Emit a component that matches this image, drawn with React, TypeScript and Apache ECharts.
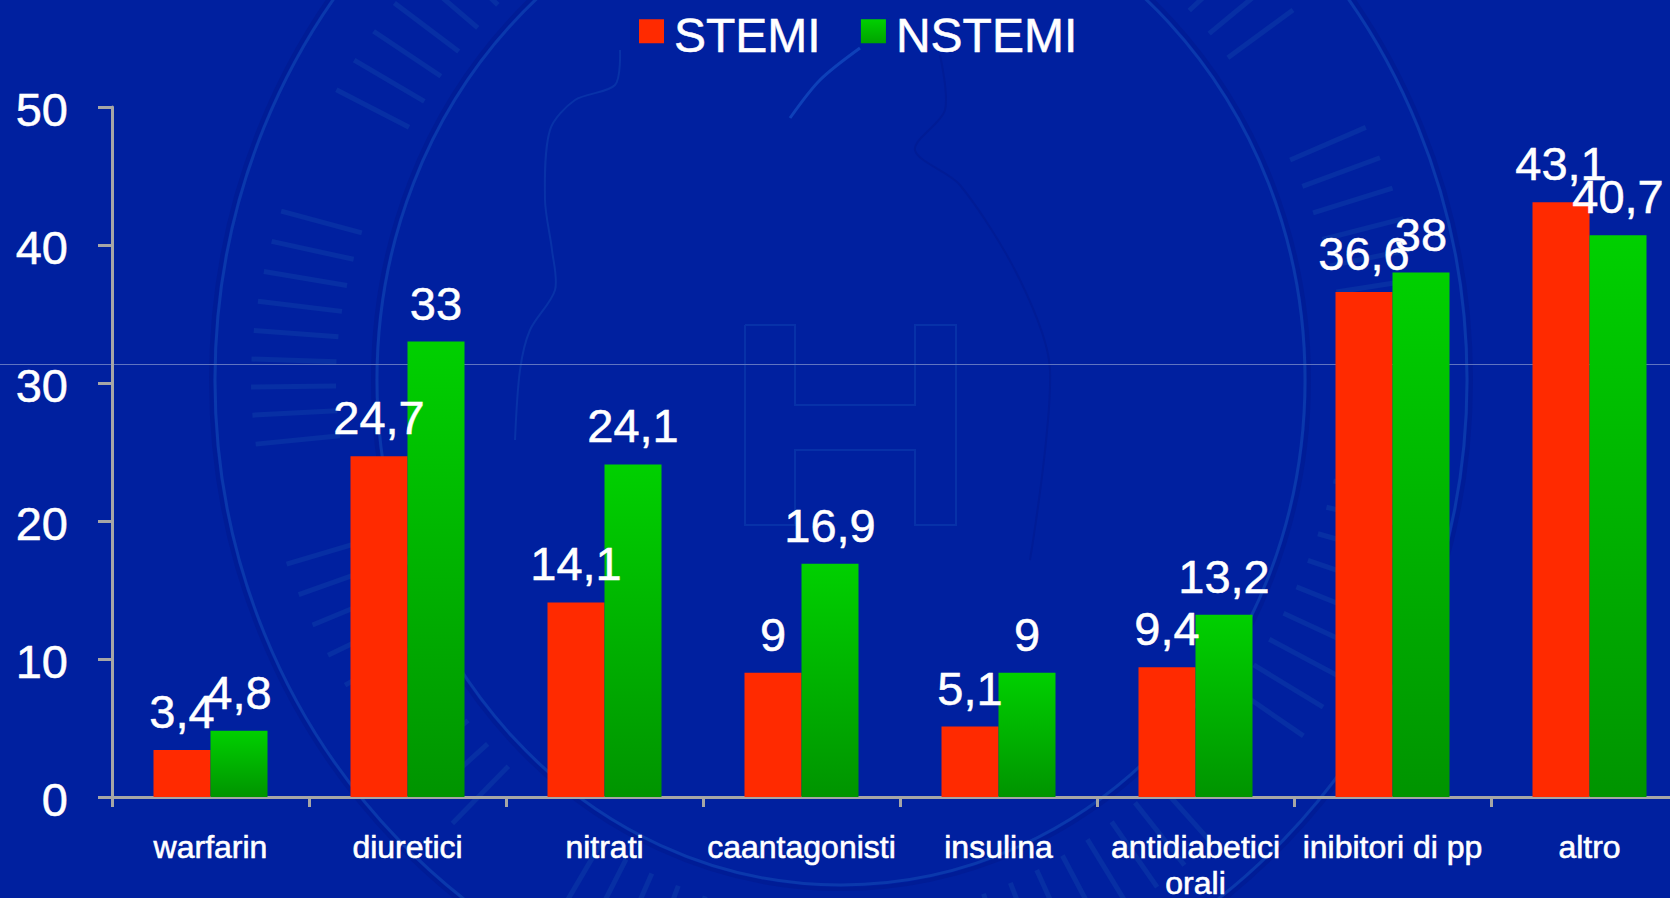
import React, { useEffect, useRef } from "react";
import * as echarts from "echarts";

const categories = ["warfarin", "diuretici", "nitrati", "caantagonisti", "insulina", "antidiabetici\norali", "inibitori di pp", "altro"];
const stemi = [3.4, 24.7, 14.1, 9, 5.1, 9.4, 36.6, 43.1];
const nstemi = [4.8, 33, 24.1, 16.9, 9, 13.2, 38, 40.7];
const seriesNames = ["STEMI", "NSTEMI"];
const FONT = "'Liberation Sans', Arial, sans-serif";

const fmt = (p: any) => String(p.value).replace(".", ",");
const WM = "#0A38AC";
const WMD = "#001C96";
// legend square sits above the text's centre: the second, empty subpath only widens the icon's bounding box
const LEGEND_ICON = "path://M0,0L25,0L25,24L0,24Z M0,32L0,32Z";

function watermark(): any[] {
  const cx = 841, cy = 380;
  const els: any[] = [];
  const ring = (rx: number, ry: number, c: string, w: number) =>
    els.push({ type: "ellipse", shape: { cx, cy, rx, ry }, style: { fill: "none", stroke: c, lineWidth: w } });
  ring(630, 654, WMD, 4);
  ring(626, 650, WM, 3);
  ring(468, 509, WMD, 4);
  ring(464, 505, WM, 3);
  // letter texture of the seal, illegible in the reference
  for (let a = 0; a < 360; a += 3.2) {
    if (a % 40 < 10) continue;
    const t = (a * Math.PI) / 180;
    const s = 0.8 + 0.2 * Math.abs(Math.sin(t));
    els.push({
      type: "line",
      shape: {
        x1: cx + 505 * Math.cos(t), y1: cy + 540 * s * Math.sin(t),
        x2: cx + 590 * Math.cos(t), y2: cy + 620 * s * Math.sin(t),
      },
      style: { stroke: "#072FA4", lineWidth: 5 },
    });
  }
  // hospital H
  const H = [[745, 325], [795, 325], [795, 405], [915, 405], [915, 325], [956, 325], [956, 525], [915, 525], [915, 450], [795, 450], [795, 525], [745, 525], [745, 325]];
  els.push({ type: "polyline", shape: { points: H }, style: { fill: "none", stroke: "#0731A8", lineWidth: 2 } });
  // head profile
  els.push({
    type: "polyline",
    shape: { smooth: 0.3, points: [[620, 50], [615, 85], [575, 100], [550, 130], [545, 200], [552, 250], [555, 290], [530, 330], [520, 370], [515, 440]] },
    style: { fill: "none", stroke: "#0832A8", lineWidth: 2 },
  });
  els.push({
    type: "polyline",
    shape: { smooth: 0.3, points: [[790, 118], [820, 80], [860, 48]] },
    style: { fill: "none", stroke: "#0E40B8", lineWidth: 3 },
  });
  els.push({
    type: "polyline",
    shape: { smooth: 0.3, points: [[940, 55], [945, 110], [915, 150], [960, 185], [1020, 280], [1050, 370], [1030, 560]] },
    style: { fill: "none", stroke: WMD, lineWidth: 2 },
  });
  // horizontal hairline across the slide
  els.push({ type: "line", shape: { x1: 0, y1: 364.5, x2: 1670, y2: 364.5 }, style: { stroke: "#5F74C0", lineWidth: 1 } });
  return els;
}

export default function App() {
  const ref = useRef<HTMLDivElement>(null);
  useEffect(() => {
    const chart = echarts.init(ref.current!, null, { renderer: "svg" });
    const label = {
      show: true,
      position: "top" as const,
      distance: 15,
      color: "#fff",
      fontFamily: FONT,
      fontSize: 47,
      textBorderColor: "#fff",
      textBorderWidth: 0.5,
      formatter: fmt,
    };
    chart.setOption({
      animation: false,
      backgroundColor: "#00209F",
      graphic: { elements: watermark() },
      legend: {
        left: 639,
        top: 11,
        padding: 0,
        itemWidth: 25,
        itemHeight: 32,
        itemGap: 40,
        icon: LEGEND_ICON,
        data: seriesNames,
        textStyle: { color: "#fff", fontFamily: FONT, fontSize: 48, padding: [0, 0, 0, 5], textBorderColor: "#fff", textBorderWidth: 0.5 },
      },
      grid: { left: 112, top: 107, width: 1576, height: 690, containLabel: false, outerBoundsMode: "none" },
      xAxis: {
        type: "category",
        data: categories,
        axisLine: { lineStyle: { color: "#A6A6A6", width: 3 } },
        axisTick: { show: true, length: 10, alignWithLabel: false, lineStyle: { color: "#A6A6A6", width: 3 } },
        axisLabel: { interval: 0, color: "#fff", fontFamily: FONT, fontSize: 32, margin: 32, lineHeight: 36, textBorderColor: "#fff", textBorderWidth: 0.6 },
      },
      yAxis: {
        type: "value",
        min: 0,
        max: 50,
        interval: 10,
        splitLine: { show: false },
        axisLine: { show: true, lineStyle: { color: "#A6A6A6", width: 3 } },
        axisTick: { show: true, length: 14, lineStyle: { color: "#A6A6A6", width: 3 } },
        axisLabel: { color: "#fff", fontFamily: FONT, fontSize: 47, margin: 44, verticalAlign: "top", padding: [-21, 0, 0, 0], textBorderColor: "#fff", textBorderWidth: 0.5 },
      },
      series: [
        {
          name: seriesNames[0],
          type: "bar",
          data: stemi,
          barWidth: 57,
          barGap: 0,
          itemStyle: { color: "#FF2A00" },
          label,
        },
        {
          name: seriesNames[1],
          type: "bar",
          data: nstemi,
          barWidth: 57,
          barGap: 0,
          itemStyle: {
            color: new echarts.graphic.LinearGradient(0, 0, 0, 1, [
              { offset: 0, color: "#00D000" },
              { offset: 1, color: "#009400" },
            ]),
          },
          label,
        },
      ],
    });
    return () => chart.dispose();
  }, []);
  return <div ref={ref} style={{ position: "absolute", left: 0, top: 0, width: 1670, height: 898, overflow: "hidden" }} />;
}
